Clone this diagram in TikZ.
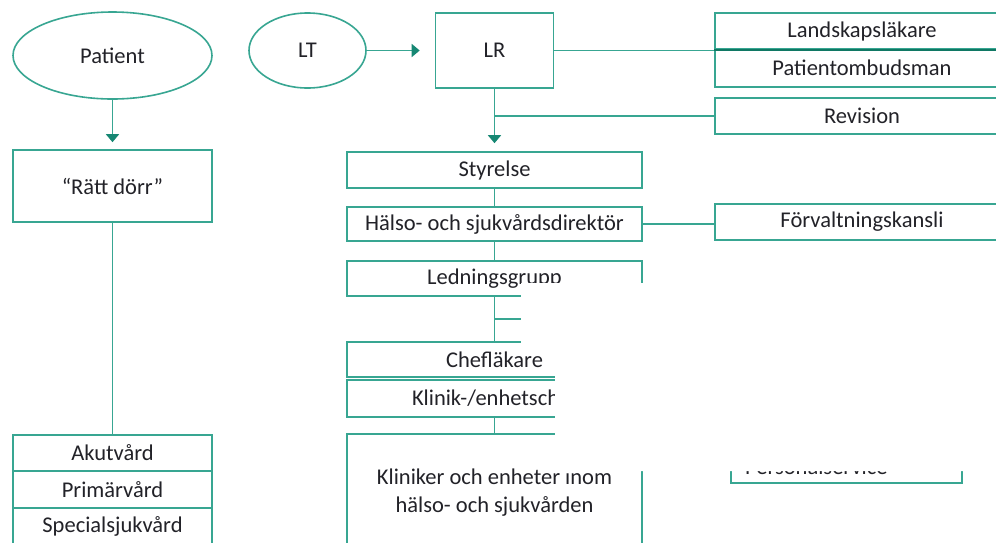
\documentclass[tikz,border=0pt]{standalone}
\usepackage{fontspec}
\setmainfont{Carlito}
\usetikzlibrary{shapes.geometric,arrows.meta,calc}
\definecolor{teal1}{RGB}{56,166,146}
\definecolor{teal2}{RGB}{22,135,115}
\definecolor{teal3}{RGB}{16,120,100}
\definecolor{txt}{RGB}{34,34,40}
\tikzset{
  box/.style={draw=teal1, line width=1.6pt, rectangle, inner sep=0pt, text=txt, align=center},
  oval/.style={draw=teal1, line width=1.6pt, ellipse, inner sep=0pt, text=txt},
  link/.style={draw=teal1, line width=1.6pt},
  arr/.style={link, -{Triangle[length=8pt,width=13pt,color=teal2]}},
  every node/.style={font=\fontsize{22.5}{28}\selectfont}
}
\begin{document}
\begin{tikzpicture}[x=1pt,y=-1pt]
\useasboundingbox (0,0) rectangle (996,542);
\clip (0,0) rectangle (996,542);
\fill[white] (0,0) rectangle (996,542);

% left column
\node[oval, minimum width=199pt, minimum height=87pt] (patient) at (112.5,55.5) {Patient};
\node[box, minimum width=199pt, minimum height=72pt] (ratt) at (112.5,186) {“Rätt dörr”};
\node[box, minimum width=199pt, minimum height=36pt] (akut) at (112.5,453) {Akutvård};
\node[box, minimum width=199pt, minimum height=37pt] (prim) at (112.5,489.5) {Primärvård};
\node[box, minimum width=199pt, minimum height=37pt] (spec) at (112.5,526.5) {Specialsjukvård};

% top
\node[oval, minimum width=117pt, minimum height=75pt] (lt) at (307.5,50.5) {LT};
\node[box, minimum width=118pt, minimum height=75pt] (lr) at (494.5,50.5) {LR};

% right column
\node[box, minimum width=294pt, minimum height=36pt] (land) at (862,31) {Landskapsläkare};
\node[box, minimum width=294pt, minimum height=38pt] (patomb) at (862,68) {Patientombudsman};
\node[box, minimum width=294pt, minimum height=36pt] (rev) at (862,116) {Revision};
\node[box, minimum width=294pt, minimum height=36pt] (forv) at (862,222) {Förvaltningskansli};

% center column
\node[box, minimum width=295pt, minimum height=36pt] (sty) at (494.5,170) {Styrelse};
\node[box, minimum width=295pt, minimum height=34pt] (hals) at (494.5,224) {Hälso- och sjukvårdsdirektör};
\node[box, minimum width=295pt, minimum height=35pt] (led) at (494.5,278.5) {Ledningsgrupp};
\node[box, minimum width=295pt, minimum height=35pt] (chef) at (494.5,359.5) {Chefläkare};
\node[box, minimum width=295pt, minimum height=37pt] (klin) at (494.5,398.5) {Klinik-/enhetschef};
\node[box, minimum width=295pt, minimum height=118pt] (klinx) at (494.5,493) {Kliniker och enheter ınom\\hälso- och sjukvården};

% partly hidden box
\node[box, minimum width=231pt, minimum height=43pt] (pers) at (846.5,461.5) {};
\node[anchor=base west, inner sep=0pt, text=txt] (perstext) at (745,474) {Personalservice};

% connectors
\draw[arr, shorten >=7pt] (patient.south) -- (ratt.north);
\draw[link] (ratt.south) -- (akut.north);
\draw[arr, shorten >=15pt] (lt.east) -- (lr.west);
\draw[link] (lr.east) -- (lr.east -| land.west);
\draw[draw=teal3, line width=2pt] (land.south west) -- (land.south east);
\draw[arr, shorten >=8pt] (lr.south) -- (lr.south |- sty.north);
\coordinate (revbranch) at (lr.south |- rev.west);
\draw[link] (revbranch) -- (rev.west);
\draw[link] (sty.south) -- (hals.north);
\draw[link] (hals.east) -- (hals.east -| forv.west);
\draw[link] (hals.south) -- (led.north);
\draw[link] (led.south) -- (chef.north);
\coordinate (ledbranch) at ($(led.south)!0.5!(chef.north)$);
\coordinate (ledend) at (700,319);
\draw[link] (ledbranch) -- (ledbranch -| ledend);
\draw[link] (klin.south) -- (klinx.north);

% occluding white area of the screenshot
\fill[white] (521,283) -- (1000,283) -- (1000,471) -- (555,471) -- (555,345) -- (521,345) -- cycle;
\end{tikzpicture}
\end{document}
